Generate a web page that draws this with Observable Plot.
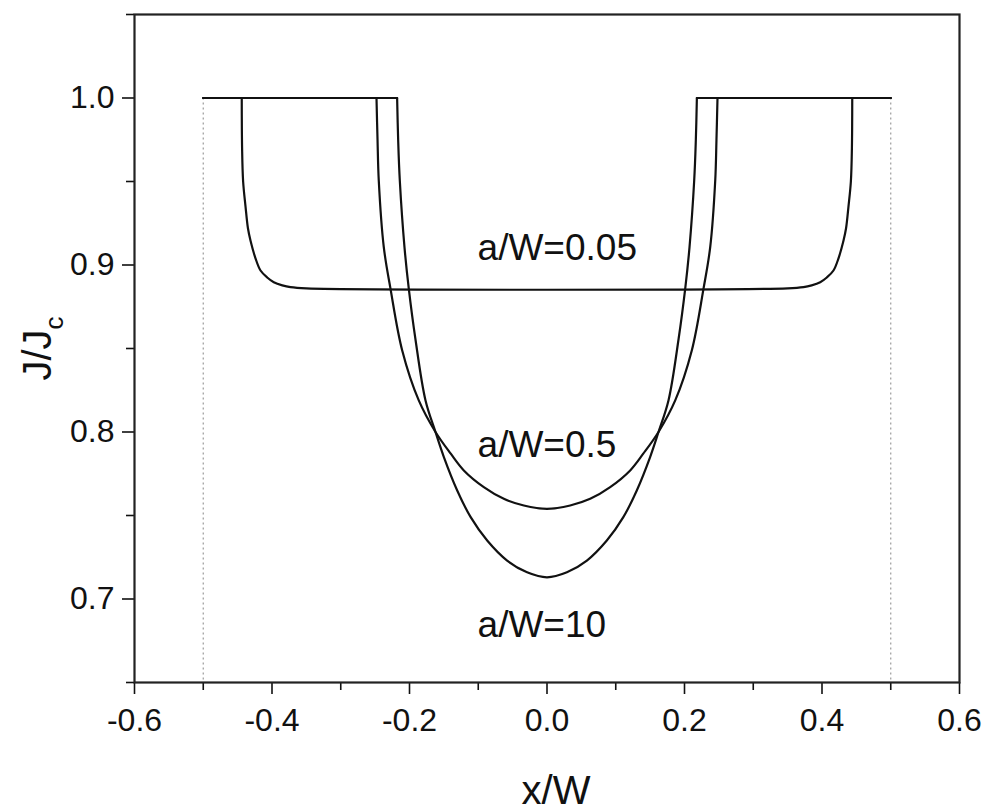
<!DOCTYPE html>
<html><head><meta charset="utf-8">
<script src="https://cdn.jsdelivr.net/npm/d3@7"></script>
<script src="https://cdn.jsdelivr.net/npm/@observablehq/plot@0.6"></script>
<style>body{margin:0;background:#fff;}</style>
</head><body><div id="chart"></div>
<script>
// ---- data ----
const xDomain = [-0.6, 0.6];
const yDomain = [0.65, 1.05];
const xTicks = [-0.6, -0.4, -0.2, 0.0, 0.2, 0.4, 0.6];
const xMinor = [-0.5, -0.3, -0.1, 0.1, 0.3, 0.5];
const yTicks = [0.7, 0.8, 0.9, 1.0];
const yMinor = [0.65, 0.75, 0.85, 0.95, 1.05];
const guideX = [-0.5, 0.5];
const guideTop = 1.0;

const curveNames = ["a/W=0.05", "a/W=0.5", "a/W=10"];

// a/W = 0.05
const x005 = [-0.5, -0.444, -0.4435, -0.442, -0.4385, -0.435, -0.4313, -0.424, -0.4167, -0.407, -0.3974, -0.385, -0.3731, -0.350,
               0.350, 0.3731, 0.385, 0.3974, 0.407, 0.4167, 0.424, 0.4313, 0.435, 0.4385, 0.442, 0.4435, 0.444, 0.5];
const y005 = [1.0, 1.0, 0.970, 0.950, 0.935, 0.922, 0.9147, 0.904, 0.8967, 0.8925, 0.8897, 0.8878, 0.8867, 0.886,
              0.886, 0.8867, 0.8878, 0.8897, 0.8925, 0.8967, 0.904, 0.9147, 0.922, 0.935, 0.950, 0.970, 1.0, 1.0];
// a/W = 0.5
const x05 = [-0.5, -0.248, -0.2465, -0.2447, -0.2374, -0.2276, -0.2106, -0.1865, -0.1622, -0.140, -0.121, -0.0919, -0.0628, -0.0337, 0.0,
              0.0337, 0.0628, 0.0919, 0.121, 0.140, 0.1622, 0.1865, 0.2106, 0.2276, 0.2374, 0.2447, 0.2465, 0.248, 0.5];
const y05 = [1.0, 1.0, 0.975, 0.9506, 0.9107, 0.8857, 0.8488, 0.8189, 0.800, 0.787, 0.777, 0.767, 0.760, 0.756, 0.754,
             0.756, 0.760, 0.767, 0.777, 0.787, 0.800, 0.8189, 0.8488, 0.8857, 0.9107, 0.9506, 0.975, 1.0, 1.0];
// a/W = 10
const x10 = [-0.5, -0.218, -0.2165, -0.2141, -0.2073, -0.201, -0.1915, -0.1767, -0.1622, -0.150, -0.1306, -0.111, -0.087, -0.058, -0.029, 0.0,
              0.029, 0.058, 0.087, 0.111, 0.1306, 0.150, 0.1622, 0.1767, 0.1915, 0.201, 0.2073, 0.2141, 0.2165, 0.218, 0.5];
const y10 = [1.0, 1.0, 0.975, 0.9506, 0.9107, 0.8857, 0.856, 0.8189, 0.800, 0.785, 0.765, 0.749, 0.735, 0.723, 0.716, 0.713,
             0.716, 0.723, 0.735, 0.749, 0.765, 0.785, 0.800, 0.8189, 0.856, 0.8857, 0.9107, 0.9506, 0.975, 1.0, 1.0];

const labelX = [-0.101, -0.101, -0.101];
const labelY = [0.9027, 0.7853, 0.677];

// ---- build tables: flat tops (first/last segment) and the curved middle ----
const flatRows = [], bendRows = [];
[[x005, y005], [x05, y05], [x10, y10]].forEach(([xs, ys], k) => {
  const n = xs.length, name = curveNames[k];
  xs.forEach((x, i) => {
    if (i <= 1) flatRows.push({curve: name + "L", x, y: ys[i]});
    if (i >= n - 2) flatRows.push({curve: name + "R", x, y: ys[i]});
    if (i >= 1 && i <= n - 2) bendRows.push({curve: name, x, y: ys[i]});
  });
});
const labels = curveNames.map((t, i) => ({text: t, x: labelX[i], y: labelY[i]}));

const fmt = d => d.toFixed(1);

const chart = Plot.plot({
  width: 990, height: 812,
  marginLeft: 134, marginRight: 31, marginTop: 14, marginBottom: 130,
  x: {domain: xDomain},
  y: {domain: yDomain},
  style: {fontFamily: "'Liberation Sans', Arial, Helvetica, sans-serif", fontSize: "32px", color: "#111", background: "#fff"},
  marks: [
    Plot.ruleX(guideX, {x: d => d, y1: guideTop, y2: yDomain[0], stroke: "#9a9a9a", strokeWidth: 1.2, strokeDasharray: "2,3"}),
    Plot.line(flatRows, {x: "x", y: "y", z: "curve", stroke: "#111", strokeWidth: 2.2}),
    Plot.line(bendRows, {x: "x", y: "y", z: "curve", curve: "catmull-rom", stroke: "#111", strokeWidth: 2.2, strokeLinejoin: "round"}),
    Plot.text(labels, {x: "x", y: "y", text: "text", textAnchor: "start", lineAnchor: "bottom", fontSize: 37, fill: "#111"}),
    Plot.axisX({ticks: xTicks, tickSize: 12, tickPadding: 14, tickFormat: fmt, label: null, fontSize: 32, strokeWidth: 1.6}),
    Plot.axisX({ticks: xMinor, tickSize: 8, tickFormat: () => "", label: null, strokeWidth: 1.6}),
    Plot.axisY({ticks: yTicks, tickSize: 12, tickPadding: 8, tickFormat: fmt, label: null, fontSize: 32, strokeWidth: 1.6}),
    Plot.axisY({ticks: yMinor, tickSize: 8, tickFormat: () => "", label: null, strokeWidth: 1.6}),
    Plot.frame({stroke: "#222", strokeWidth: 2.2}),
    Plot.text(["x/W"], {text: d => d, frameAnchor: "bottom", dx: 9, dy: 121, lineAnchor: "bottom", fontSize: 40, fill: "#111"}),
    Plot.text(["J/J"], {text: d => d, frameAnchor: "left", rotate: -90, textAnchor: "start", lineAnchor: "bottom", dx: -84, dy: 32, fontSize: 40, fill: "#111"}),
    Plot.text(["c"], {text: d => d, frameAnchor: "left", rotate: -90, textAnchor: "start", lineAnchor: "bottom", dx: -72, dy: -19, fontSize: 26, fill: "#111"})
  ]
});
document.getElementById("chart").appendChild(chart);
</script>
</body></html>
